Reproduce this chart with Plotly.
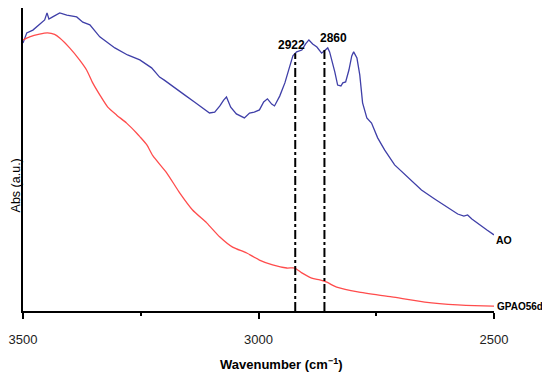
import plotly.graph_objects as go

# AO spectrum
ao_wn = [3500, 3492, 3479, 3465, 3454, 3449, 3445, 3437, 3422, 3407, 3394, 3386, 3373, 3358,
         3337, 3305, 3278, 3252, 3227, 3210, 3200, 3178, 3157, 3136, 3115, 3104, 3093, 3082, 3074,
         3068, 3059, 3047, 3030, 3019, 3009, 2998, 2989, 2981, 2972, 2966, 2955, 2944, 2934,
         2927, 2919, 2908, 2900, 2893, 2885, 2876, 2866, 2860, 2853, 2849, 2844, 2838, 2832,
         2825, 2821, 2815, 2808, 2802, 2798, 2791, 2785, 2779, 2770, 2760, 2747, 2732, 2711,
         2683, 2654, 2626, 2598, 2577, 2564, 2556, 2547, 2530, 2515, 2500]
ao_abs = [87.3, 90.6, 91.5, 93.2, 94.8, 97.1, 95.1, 95.8, 97.1, 96.4, 96.1, 95.8, 94.1, 93.2,
          89.3, 85.7, 83.4, 81.8, 79.2, 76.2, 75.2, 72.6, 70.4, 68.1, 65.8, 64.5, 64.8, 66.8, 68.7,
          69.7, 66.4, 64.2, 62.9, 64.5, 64.8, 65.5, 68.1, 69.1, 67.4, 66.8, 70.0, 74.3, 79.5,
          83.1, 84.4, 85.0, 87.0, 88.3, 87.0, 86.0, 84.0, 84.7, 85.7, 84.4, 81.8, 77.9, 73.6,
          73.3, 74.3, 74.6, 78.5, 83.1, 84.4, 82.4, 76.9, 67.8, 62.9, 61.2, 56.4, 52.4, 47.6,
          43.6, 39.4, 36.5, 33.6, 31.6, 30.9, 31.3, 30.0, 28.0, 26.4, 24.8]

# GPAO56d spectrum
gp_wn = [3500, 3486, 3465, 3448, 3433, 3422, 3401, 3380, 3365, 3352, 3337, 3320, 3301, 3280,
         3259, 3252, 3237, 3224, 3195, 3167, 3140, 3110, 3082, 3055, 3025, 2998, 2970, 2940,
         2923, 2908, 2887, 2870, 2855, 2844, 2834, 2789, 2717, 2647, 2577, 2502, 2500]
gp_abs = [88.3, 89.3, 90.2, 90.6, 90.1, 88.9, 85.7, 81.8, 78.5, 74.3, 70.4, 66.4, 63.8, 61.2,
          58.0, 56.8, 54.1, 50.5, 45.0, 38.4, 32.9, 28.7, 24.1, 20.8, 18.9, 16.6, 15.0, 14.0,
          14.0, 12.4, 10.7, 10.1, 9.4, 8.5, 7.8, 6.2, 4.6, 2.9, 2.0, 1.6, 1.6]

peak_wn = [2922, 2860]
peak_top = [84.0, 85.7]
peak_labels = ["2922", "2860"]

series_names = ["AO", "GPAO56d"]

x_ticks = [3500, 3000, 2500]

FONT = "Liberation Sans, Arial, sans-serif"

fig = go.Figure()
fig.add_trace(go.Scatter(x=ao_wn, y=ao_abs, mode="lines", name=series_names[0],
                         line=dict(color="#3f3fa8", width=1.3)))
fig.add_trace(go.Scatter(x=gp_wn, y=gp_abs, mode="lines", name=series_names[1],
                         line=dict(color="#ff4c4c", width=1.3, shape="spline", smoothing=0.6)))

for wn, top, lab in zip(peak_wn, peak_top, peak_labels):
    fig.add_trace(go.Scatter(x=[wn, wn], y=[0, top], mode="lines", showlegend=False,
                             line=dict(color="black", width=2, dash="dashdot")))

# peak labels
fig.add_annotation(x=peak_wn[0], y=peak_top[0], text="<b>" + peak_labels[0] + "</b>",
                   showarrow=False, xanchor="center", yanchor="bottom", xshift=-4, yshift=-1,
                   font=dict(size=12, color="black", family=FONT))
fig.add_annotation(x=peak_wn[1], y=peak_top[1], text="<b>" + peak_labels[1] + "</b>",
                   showarrow=False, xanchor="center", yanchor="bottom", xshift=9, yshift=1,
                   font=dict(size=12, color="black", family=FONT))

# series end labels
fig.add_annotation(x=ao_wn[-1], y=ao_abs[-1], text="<b>" + series_names[0] + "</b>",
                   showarrow=False, xanchor="left", yanchor="middle", xshift=0, yshift=-5,
                   font=dict(size=10.5, color="black", family=FONT))
fig.add_annotation(x=gp_wn[-1], y=gp_abs[-1], text="<b>" + series_names[1] + "</b>",
                   showarrow=False, xanchor="left", yanchor="middle", xshift=1, yshift=0,
                   font=dict(size=10, color="black", family=FONT))

# y axis title
fig.add_annotation(xref="paper", yref="paper", x=-0.016, y=0.416, text="Abs (a.u.)",
                   textangle=-90, showarrow=False, xanchor="center", yanchor="middle",
                   font=dict(size=12.5, color="black", family=FONT))

# x axis title
fig.add_annotation(xref="paper", yref="paper", x=0.548, y=0, yshift=-53,
                   text="<b>Wavenumber (cm<sup>−1</sup>)</b>",
                   showarrow=False, xanchor="center", yanchor="middle",
                   font=dict(size=13, color="black", family=FONT))

# the page body adds an 8 px offset, so the figure is sized to fit the remaining area
fig.update_layout(
    width=542, height=366,
    margin=dict(l=15, r=56, t=0, b=63),
    paper_bgcolor="white", plot_bgcolor="white",
    showlegend=False,
    font=dict(family=FONT, color="black"),
    xaxis=dict(range=[3500, 2500], tickvals=x_ticks, ticktext=[str(v) for v in x_ticks],
               ticks="outside", ticklen=6, tickwidth=1.5, tickcolor="black",
               minor=dict(dtick=250, ticks="outside", ticklen=3, tickwidth=1.5, tickcolor="black"),
               showline=True, linecolor="black", linewidth=2, showgrid=False, zeroline=False,
               ticklabelstandoff=9, automargin=False,
               tickfont=dict(size=13, color="#222222", family=FONT)),
    yaxis=dict(range=[0, 98.7], showticklabels=False, ticks="", showline=True, automargin=False,
               linecolor="black", linewidth=2, showgrid=False, zeroline=False),
)

fig.write_html("out.html")
